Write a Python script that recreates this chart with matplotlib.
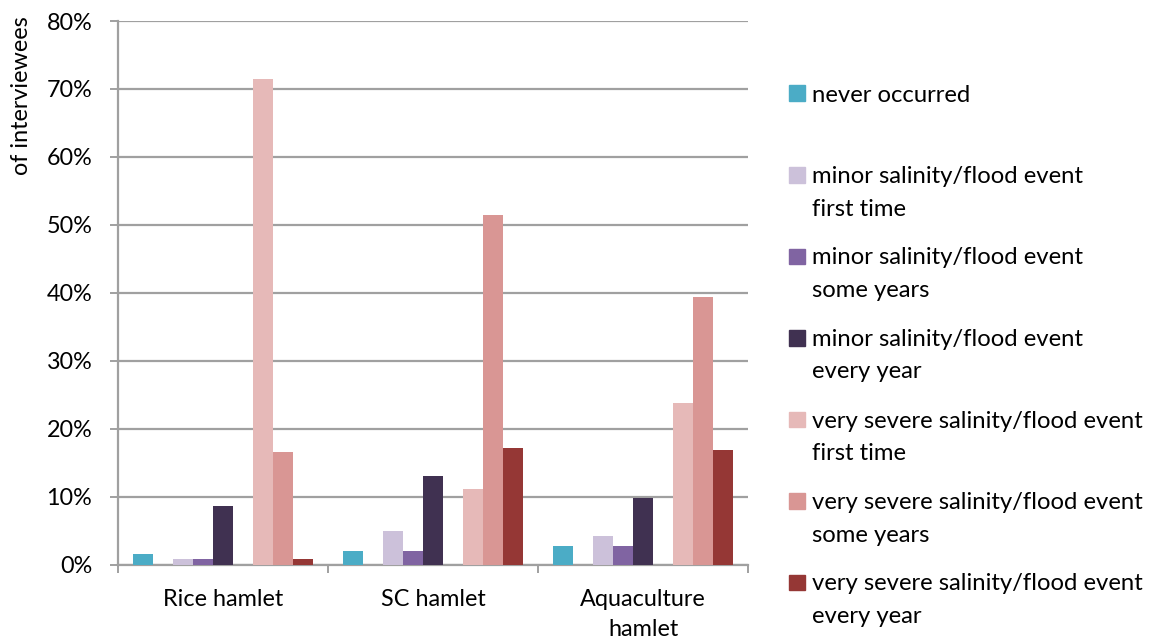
import matplotlib
matplotlib.use("Agg")
import matplotlib.pyplot as plt
from matplotlib.patches import Rectangle
import numpy as np

plt.rcParams['font.family'] = ['Lato', 'DejaVu Sans']

categories = ["Rice hamlet", "SC hamlet", "Aquaculture\nhamlet"]
series_labels = [
    "never occurred",
    "minor salinity/flood event\nfirst time",
    "minor salinity/flood event\nsome years",
    "minor salinity/flood event\nevery year",
    "very severe salinity/flood event\nfirst time",
    "very severe salinity/flood event\nsome years",
    "very severe salinity/flood event\nevery year",
]
never_occurred = [1.5, 2.0, 2.75]
minor_first = [0.75, 5.0, 4.2]
minor_some = [0.75, 2.0, 2.75]
minor_every = [8.6, 13.1, 9.8]
severe_first = [71.5, 11.1, 23.8]
severe_some = [16.5, 51.5, 39.4]
severe_every = [0.75, 17.2, 16.8]
series_values = [never_occurred, minor_first, minor_some, minor_every,
                 severe_first, severe_some, severe_every]
colors = ["#4BACC6", "#CCC1DA", "#8064A2", "#403151",
          "#E6B9B8", "#D99694", "#953735"]
# slot index within the cluster (slots 1 and 5 are empty spacer series)
slots = [0, 2, 3, 4, 6, 7, 8]
n_slots = 9

FS = 16.8
W, H = 1160, 642
fig = plt.figure(figsize=(W / 100, H / 100), dpi=100)
ax = fig.add_axes([118 / W, 1 - 564.5 / H, (748 - 118) / W, (564.5 - 21) / H])

bw = 1.0 / (n_slots + 1.5)
x = np.arange(len(categories))
for vals, col, s in zip(series_values, colors, slots):
    ax.bar(x + (s - (n_slots - 1) / 2) * bw, vals, width=bw, color=col,
           edgecolor='none', zorder=3)

ax.set_xlim(-0.5, len(categories) - 0.5)
ax.set_ylim(0, 80)
grid_col = "#A0A0A0"
ax.set_yticks(np.arange(0, 81, 10))
ax.set_yticklabels([f"{v}%" for v in range(0, 81, 10)], fontsize=FS)
ax.yaxis.grid(True, color=grid_col, linewidth=1.6, zorder=0)
ax.set_axisbelow(True)
ax.set_xticks(x)
ax.set_xticklabels(categories, fontsize=FS, linespacing=1.55)
ax.tick_params(axis='x', length=0, pad=17.5)
ax.tick_params(axis='y', length=6, width=1.4, color=grid_col, pad=12.5)
# category boundary ticks
ax.set_xticks(np.arange(-0.5, len(categories), 1.0), minor=True)
ax.tick_params(axis='x', which='minor', length=6, width=1.4, color=grid_col)
for sp in ['top', 'right']:
    ax.spines[sp].set_visible(False)
for sp in ['left', 'bottom']:
    ax.spines[sp].set_color(grid_col)
    ax.spines[sp].set_linewidth(1.6)

fig.text(22 / W, 1 - 96 / H, "of interviewees", rotation=90, fontsize=FS,
         ha='center', va='center')

# legend
first_centers = [93, 174.5, 256, 337.5, 419, 500.5, 582]
line_gap = 32.5
for lab, col, yc in zip(series_labels, colors, first_centers):
    fig.patches.append(Rectangle((789 / W, 1 - (yc + 8) / H), 15.5 / W, 15.5 / H,
                                 transform=fig.transFigure, color=col,
                                 figure=fig))
    for k, line in enumerate(lab.split("\n")):
        fig.text(812 / W, 1 - (yc + k * line_gap) / H, line, fontsize=FS + 0.4,
                 ha='left', va='center_baseline')

fig.savefig("out.png", dpi=100)
